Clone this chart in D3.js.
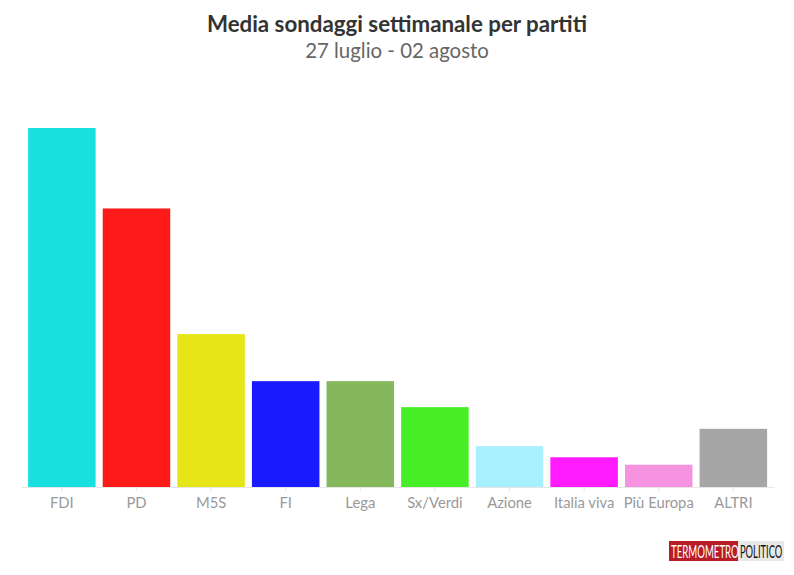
<!DOCTYPE html>
<html>
<head>
<meta charset="utf-8">
<script src="https://cdn.jsdelivr.net/npm/d3@7"></script>
<style>
  html, body { margin: 0; padding: 0; background: #fff; }
  text { font-family: Lato, "Noto Sans", sans-serif; }
</style>
</head>
<body>
<div id="root"></div>
<script>
const partiti = ['FDI', 'PD', 'M5S', 'FI', 'Lega', 'Sx/Verdi', 'Azione', 'Italia viva', 'Più Europa', 'ALTRI']
const valori = [29, 22.5, 12.35, 8.55, 8.55, 6.45, 3.3, 2.4, 1.8, 4.7]
const colori = ['#19dfdf', '#ff1a1a', '#e5e517', '#1a1aff', '#85b85c', '#47ee27', '#a8f0ff', '#ff1aff', '#f593e0', '#a6a6a6']

const width = 794
const height = 575

const x = d3.scaleBand().domain(partiti).range([21, 774.2]).paddingInner(0.095).paddingOuter(0.095)
const y = d3.scaleLinear().domain([0, 29]).range([487, 128])

const svg = d3.select('#root').append('svg')
  .attr('width', width)
  .attr('height', height)
  .style('display', 'block')

svg.append('text')
  .attr('x', 397)
  .attr('y', 32)
  .attr('text-anchor', 'middle')
  .attr('font-size', 22.3)
  .attr('font-weight', 700)
  .attr('fill', '#333')
  .text('Media sondaggi settimanale per partiti')

svg.append('text')
  .attr('x', 397)
  .attr('y', 58)
  .attr('text-anchor', 'middle')
  .attr('font-size', 20.4)
  .attr('fill', '#666')
  .text('27 luglio - 02 agosto')

svg.selectAll('rect.bar')
  .data(partiti)
  .enter()
  .append('rect')
  .attr('class', 'bar')
  .attr('x', d => x(d))
  .attr('y', (d, i) => y(valori[i]))
  .attr('width', x.bandwidth())
  .attr('height', (d, i) => y(0) - y(valori[i]))
  .attr('fill', (d, i) => colori[i])

const xAxis = svg.append('g')
  .attr('transform', 'translate(0,487)')
  .call(d3.axisBottom(x).tickSizeInner(4).tickSizeOuter(0).tickPadding(6))

xAxis.select('.domain').attr('stroke', '#e6e6e6')
xAxis.selectAll('.tick line').attr('stroke', '#e6e6e6')
xAxis.selectAll('.tick text')
  .attr('font-family', 'Lato, "Noto Sans", sans-serif')
  .attr('font-size', 14.8)
  .attr('fill', '#999')

// logo
const logo = svg.append('g').attr('transform', 'translate(669,541)')
logo.append('rect').attr('width', 69).attr('height', 20).attr('fill', '#b81c26')
logo.append('rect').attr('x', 69).attr('width', 46).attr('height', 20).attr('fill', '#e8e8e6')
logo.append('text')
  .attr('transform', 'translate(2,16.5) scale(0.535,1)')
  .attr('font-family', '"Liberation Sans Narrow", "Liberation Sans"')
  .attr('font-size', 18)
  .attr('fill', '#fff')
  .text('TERMOMETRO')
logo.append('text')
  .attr('transform', 'translate(71,16.5) scale(0.52,1)')
  .attr('font-family', '"Liberation Sans Narrow", "Liberation Sans"')
  .attr('font-size', 18)
  .attr('fill', '#111')
  .text('POLITICO')
</script>
</body>
</html>
